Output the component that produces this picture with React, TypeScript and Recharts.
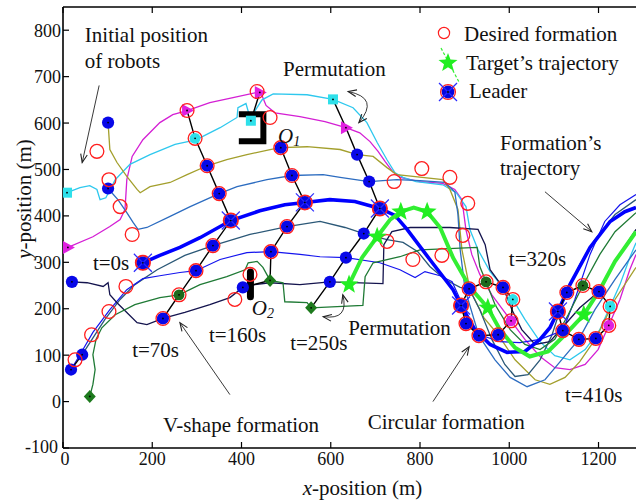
import React from 'react';
import {
  ComposedChart,
  Line,
  Scatter,
  XAxis,
  YAxis,
  ReferenceDot,
  ReferenceLine,
  Legend,
} from 'recharts';

type Pt = { x: number; y: number };
const toPts = (rows: number[][]): Pt[] => rows.map(([x, y]) => ({ x, y }));

// ---------- axes ----------
const xTicks = [0, 200, 400, 600, 800, 1000, 1200];
const yTicks = [-100, 0, 100, 200, 300, 400, 500, 600, 700, 800];

// ---------- robot trajectories (m) ----------
const magentaPath = toPts([
  [11, 332], [67, 355], [105, 377], [128, 392], [139, 414], [143, 478], [155, 528], [179, 564],
  [217, 601], [246, 618], [278, 627], [329, 644], [381, 655], [435, 666], [441, 666], [446, 659],
  [455, 638], [475, 622], [531, 614], [587, 603], [634, 590], [665, 579], [688, 560], [706, 539],
  [722, 517], [739, 495], [755, 483], [800, 474], [851, 470], [878, 457], [894, 435], [903, 370],
  [916, 317], [934, 274], [961, 230], [1004, 174], [1035, 134], [1069, 97], [1102, 73], [1136, 69],
  [1170, 80], [1199, 112], [1223, 164], [1248, 220], [1270, 284], [1284, 317],
]);
const cyanPath = toPts([
  [9, 450], [38, 461], [60, 465], [76, 457], [83, 435], [96, 439], [117, 478], [150, 511],
  [195, 532], [251, 554], [298, 564], [352, 590], [390, 612], [392, 633], [410, 642], [421, 605],
  [432, 629], [446, 650], [471, 663], [547, 661], [605, 651], [650, 633], [681, 601], [704, 558],
  [726, 521], [744, 493], [762, 483], [791, 474], [851, 467], [881, 450], [903, 420], [912, 370],
  [930, 327], [957, 280], [1008, 220], [1035, 177], [1069, 129], [1102, 99], [1136, 90], [1170, 112],
  [1203, 155], [1226, 205], [1248, 252], [1270, 310], [1284, 342],
]);
const olivePath = toPts([
  [101, 601], [105, 543], [121, 515], [143, 485], [166, 457], [173, 450], [195, 463], [240, 472],
  [278, 489], [323, 508], [367, 521], [412, 532], [464, 543], [488, 547], [547, 549], [621, 543],
  [659, 532], [695, 528], [726, 504], [748, 489], [851, 478], [867, 457], [885, 414], [894, 327],
  [912, 241], [943, 181], [975, 144], [1013, 90], [1058, 47], [1091, 37], [1125, 52], [1158, 86],
  [1194, 136], [1237, 220], [1284, 289],
]);
const steelPath = toPts([
  [101, 459], [123, 435], [143, 407], [157, 386], [168, 371], [188, 375], [240, 399], [285, 420],
  [350, 448], [390, 463], [457, 478], [513, 487], [583, 489], [621, 483], [686, 474], [748, 478],
  [800, 476], [856, 472], [878, 452], [885, 403], [890, 327], [901, 241], [932, 142], [968, 90],
  [1002, 52], [1040, 32], [1080, 47], [1114, 86], [1156, 134], [1192, 198], [1237, 263], [1284, 327],
]);
const leaderPath = toPts([
  [179, 299], [217, 315], [262, 332], [307, 353], [376, 390], [441, 411], [497, 424], [542, 429],
  [598, 435], [654, 431], [710, 416], [744, 401], [771, 371], [822, 306], [874, 241], [892, 207],
  [923, 155], [957, 123], [995, 106], [1035, 108], [1069, 134], [1091, 159], [1109, 194], [1136, 252],
  [1181, 332], [1226, 388], [1259, 409], [1284, 418],
]);
const slatePath = toPts([
  [43, 101], [65, 134], [94, 177], [128, 220], [161, 252], [211, 284], [273, 315], [336, 336],
  [419, 360], [502, 377], [576, 388], [632, 375], [674, 362], [726, 349], [762, 343], [795, 323],
  [822, 291], [856, 263], [890, 246], [910, 243], [934, 198], [961, 134], [990, 80], [1013, 54],
  [1042, 58], [1069, 90], [1096, 144], [1114, 198], [1129, 235], [1158, 295], [1192, 349], [1237, 403],
  [1284, 435],
]);
const bluePath = toPts([
  [18, 69], [38, 101], [67, 149], [105, 198], [143, 241], [179, 265], [217, 271], [262, 278],
  [298, 282], [352, 306], [412, 321], [466, 323], [531, 317], [576, 312], [634, 310], [710, 299],
  [755, 284], [789, 267], [811, 280], [845, 271], [872, 258], [890, 220], [903, 168], [934, 144],
  [979, 129], [1024, 127], [1069, 134], [1120, 153], [1147, 220], [1181, 317], [1214, 388], [1248, 424],
  [1284, 446],
]);
const navyPath = toPts([
  [20, 258], [54, 256], [90, 248], [101, 256], [105, 230], [121, 213], [143, 192], [166, 170],
  [188, 166], [224, 179], [273, 192], [329, 209], [374, 224], [403, 246], [430, 252], [464, 256],
  [531, 252], [598, 258], [717, 254], [719, 338], [737, 366], [778, 375], [867, 375], [930, 371],
  [946, 338], [957, 284], [986, 246], [1006, 198], [1028, 155], [1058, 123], [1091, 129], [1125, 166],
  [1158, 202], [1201, 237], [1237, 302], [1284, 371],
]);
const greenPath = toPts([
  [60, 11], [67, 37], [72, 69], [67, 101], [74, 134], [87, 159], [117, 187], [161, 209],
  [217, 224], [260, 230], [307, 252], [367, 269], [408, 284], [415, 299], [435, 302], [448, 289],
  [464, 261], [493, 256], [497, 215], [547, 213], [556, 202], [672, 207], [677, 269], [695, 299],
  [755, 312], [800, 327], [928, 332], [934, 291], [948, 258], [968, 209], [1002, 155], [1035, 123],
  [1069, 112], [1102, 134], [1132, 187], [1165, 250], [1203, 317], [1237, 366], [1284, 407],
]);
const targetPath = toPts([
  [641, 252], [670, 310], [704, 355], [733, 392], [757, 409], [786, 418], [816, 409], [845, 375],
  [874, 310], [912, 246], [952, 202], [979, 155], [1013, 116], [1046, 97], [1087, 108], [1125, 144],
  [1167, 187], [1203, 241], [1237, 302], [1284, 366],
]);

// ---------- formation snapshots ----------
const formT0 = toPts([[18, 69], [43, 101]]);
const formT70 = toPts([
  [278, 627], [296, 567], [323, 508], [350, 448], [376, 390], [336, 336], [298, 282], [260, 230], [224, 179],
]);
const formT160a = toPts([[441, 666], [421, 605]]);
const formT160b = toPts([[488, 547], [513, 487], [542, 429], [502, 377], [466, 323], [464, 261], [403, 246]]);
const formT250 = toPts([
  [605, 651], [634, 590], [659, 532], [686, 474], [710, 416], [674, 362], [634, 310], [598, 258], [556, 202],
]);
const ringT320 = toPts([
  [910, 243], [948, 258], [986, 246], [1008, 220], [1004, 174], [975, 144], [932, 142], [903, 168], [892, 207], [910, 243],
]);
const ringT410 = toPts([
  [1129, 235], [1165, 250], [1201, 237], [1226, 205], [1223, 164], [1194, 136], [1156, 134], [1120, 153], [1109, 194], [1129, 235],
]);

// desired formation positions
const desired = toPts([
  [76, 539], [103, 478], [128, 420], [155, 360], [179, 299], [141, 248], [103, 194], [64, 144], [27, 90],
  [278, 627], [296, 567], [323, 508], [350, 448], [376, 390], [336, 336], [298, 282], [260, 230], [224, 179],
  [435, 668], [464, 612], [488, 547], [513, 487], [542, 429], [502, 377], [466, 323], [419, 274], [385, 220],
  [726, 345], [742, 474], [784, 306], [804, 502], [849, 315], [867, 483], [896, 358], [907, 427],
  [910, 243], [948, 258], [986, 246], [1008, 220], [1004, 174], [975, 144], [932, 142], [903, 168], [892, 207],
  [1129, 235], [1165, 250], [1201, 237], [1226, 205], [1223, 164], [1194, 136], [1156, 134], [1120, 153], [1109, 194],
  [710, 416],
]);

// robot positions at the snapshot times
const blueRobots = toPts([
  [101, 601], [101, 459], [20, 258], [43, 101], [18, 69],
  [323, 508], [350, 448], [336, 336], [298, 282], [224, 179],
  [488, 547], [513, 487], [502, 377], [466, 323], [403, 246],
  [659, 532], [686, 474], [674, 362], [634, 310], [598, 258],
  [910, 243], [986, 246], [975, 144], [932, 142], [903, 168],
  [1129, 235], [1201, 237], [1194, 136], [1156, 134], [1120, 153],
]);
const leaderMarks = toPts([[179, 299], [376, 390], [542, 429], [710, 416], [892, 207], [1109, 194]]);
const magentaTriangles = toPts([[11, 332], [278, 627], [441, 666], [634, 590]]);
const magentaDots = toPts([[1004, 174], [1223, 164]]);
const cyanSquares = toPts([[9, 450], [421, 605], [605, 651]]);
const cyanDots = toPts([[296, 567], [1008, 220], [1226, 205]]);
const greenDiamonds = toPts([[60, 11], [464, 261], [556, 202]]);
const greenDots = toPts([[260, 230], [948, 258], [1165, 250]]);
const targetStars = toPts([[641, 252], [704, 355], [757, 409], [816, 409], [952, 202], [1167, 187]]);

// obstacles
const obstacleO1 = toPts([[394, 619], [449, 619], [449, 561], [394, 561]]);
const obstacleO2 = toPts([[420, 279], [420, 226]]);

// annotations
const notes = [
  { x: 49, y: 775, text: 'Initial position' },
  { x: 49, y: 719, text: 'of robots' },
  { x: 493, y: 702, text: 'Permutation' },
  { x: 67, y: 284, text: 't=0s' },
  { x: 155, y: 95, text: 't=70s' },
  { x: 327, y: 129, text: 't=160s' },
  { x: 509, y: 112, text: 't=250s' },
  { x: 639, y: 144, text: 'Permutation' },
  { x: 224, y: -65, text: 'V-shape formation' },
  { x: 683, y: -60, text: 'Circular formation' },
  { x: 999, y: 293, text: 't=320s' },
  { x: 1125, y: 0, text: 't=410s' },
  { x: 979, y: 543, text: 'Formation’s' },
  { x: 979, y: 489, text: 'trajectory' },
];
const obstacleNames = [
  { x: 482, y: 558, name: '1' },
  { x: 423, y: 187, name: '2' },
];
const arrows = [
  { from: { x: 81, y: 681 }, to: { x: 43, y: 515 }, bend: 0 },
  { from: { x: 1080, y: 452 }, to: { x: 1185, y: 366 }, bend: 0 },
  { from: { x: 374, y: 15 }, to: { x: 262, y: 170 }, bend: 0 },
  { from: { x: 829, y: 0 }, to: { x: 910, y: 118 }, bend: 0 },
  { from: { x: 639, y: 668 }, to: { x: 663, y: 601 }, bend: 0.85 },
  { from: { x: 627, y: 230 }, to: { x: 583, y: 183 }, bend: 0.75 },
];

// ---------- drawing helpers ----------
const SERIF = '"Liberation Serif", "Times New Roman", Times, serif';

const starPath = (cx: number, cy: number, R: number, r: number) => {
  let d = '';
  for (let i = 0; i < 10; i++) {
    const a = -Math.PI / 2 + (i * Math.PI) / 5;
    const rad = i % 2 === 0 ? R : r;
    d += (i ? 'L' : 'M') + (cx + rad * Math.cos(a)).toFixed(2) + ',' + (cy + rad * Math.sin(a)).toFixed(2);
  }
  return d + 'Z';
};

const CenterDot = ({ cx, cy }: { cx: number; cy: number }) => <circle cx={cx} cy={cy} r={0.9} fill="#000" />;

const RedRing = (p: any) => (
  <circle cx={p.cx} cy={p.cy} r={6.9} fill="none" stroke="#ff1e1e" strokeWidth={1.3} />
);
const BlueDot = (p: any) => (
  <g>
    <circle cx={p.cx} cy={p.cy} r={6.1} fill="#0808e8" />
    <CenterDot cx={p.cx} cy={p.cy} />
  </g>
);
const LeaderMark = ({ cx, cy }: { cx: number; cy: number }) => (
  <g>
    <circle cx={cx} cy={cy} r={6.4} fill="#0505e0" />
    <circle cx={cx} cy={cy} r={7.4} fill="none" stroke="#ff2020" strokeWidth={1.3} />
    <line x1={cx - 9} y1={cy - 9} x2={cx + 9} y2={cy + 9} stroke="#2a2aff" strokeWidth={1.2} />
    <line x1={cx - 9} y1={cy + 9} x2={cx + 9} y2={cy - 9} stroke="#2a2aff" strokeWidth={1.2} />
    <CenterDot cx={cx} cy={cy} />
  </g>
);
const LeaderShape = (p: any) => <LeaderMark cx={p.cx} cy={p.cy} />;
const TriangleShape = (p: any) => (
  <g>
    <polygon
      points={`${p.cx - 5},${p.cy - 6.5} ${p.cx + 7},${p.cy} ${p.cx - 5},${p.cy + 6.5}`}
      fill="#e020e0"
    />
    <CenterDot cx={p.cx} cy={p.cy} />
  </g>
);
const SmallDot = (color: string) => (p: any) => (
  <g>
    <circle cx={p.cx} cy={p.cy} r={5.4} fill={color} />
    <CenterDot cx={p.cx} cy={p.cy} />
  </g>
);
const SquareShape = (p: any) => (
  <g>
    <rect x={p.cx - 5} y={p.cy - 5} width={10} height={10} fill="#2ee0ea" />
    <CenterDot cx={p.cx} cy={p.cy} />
  </g>
);
const DiamondShape = (p: any) => (
  <g>
    <polygon
      points={`${p.cx},${p.cy - 6.5} ${p.cx + 6},${p.cy} ${p.cx},${p.cy + 6.5} ${p.cx - 6},${p.cy}`}
      fill="#1d7a1d"
    />
    <CenterDot cx={p.cx} cy={p.cy} />
  </g>
);
const StarShape = (p: any) => <path d={starPath(p.cx, p.cy, 10, 4.2)} fill="#22ee22" />;

const headPath = (tx: number, ty: number, fx: number, fy: number) => {
  const a = Math.atan2(ty - fy, tx - fx);
  const L = 9;
  const s = 0.38;
  const ax = tx - L * Math.cos(a - s);
  const ay = ty - L * Math.sin(a - s);
  const bx = tx - L * Math.cos(a + s);
  const by = ty - L * Math.sin(a + s);
  return `M${ax},${ay}L${tx},${ty}L${bx},${by}`;
};

const arrowShape = (bend: number) => (p: any) => {
  const { x1, y1, x2, y2 } = p;
  const dx = x2 - x1;
  const dy = y2 - y1;
  if (!bend) {
    return (
      <g fill="none" stroke="#222" strokeWidth={0.9}>
        <line x1={x1} y1={y1} x2={x2} y2={y2} />
        <path d={headPath(x2, y2, x1, y1)} strokeWidth={1.1} />
      </g>
    );
  }
  const cx = (x1 + x2) / 2 + dy * bend;
  const cy = (y1 + y2) / 2 - dx * bend;
  return (
    <g fill="none" stroke="#222" strokeWidth={0.9}>
      <path d={`M${x1},${y1}Q${cx},${cy} ${x2},${y2}`} />
      <path d={headPath(x1, y1, cx, cy)} strokeWidth={1.1} />
      <path d={headPath(x2, y2, cx, cy)} strokeWidth={1.1} />
    </g>
  );
};

const noteShape = (text: string) => (p: any) => (
  <text x={p.cx} y={p.cy} fontFamily={SERIF} fontSize={21} fill="#111">
    {text}
  </text>
);
const obstacleShape = (sub: string) => (p: any) => (
  <text x={p.cx} y={p.cy} fontFamily={SERIF} fontSize={21} fontStyle="italic" fill="#111">
    O
    <tspan fontSize={14} dy={3}>
      {sub}
    </tspan>
  </text>
);

const BottomTick = (p: any) => (
  <g>
    <line x1={p.x} y1={p.y} x2={p.x} y2={p.y - 6} stroke="#000" strokeWidth={1.2} />
    <text x={p.x + (p.payload.value === 0 ? 2 : 0)} y={p.y + 17} textAnchor="middle" fontFamily={SERIF} fontSize={18} fill="#111">
      {p.payload.value}
    </text>
  </g>
);
const TopTick = (p: any) => (
  <line x1={p.x} y1={p.y} x2={p.x} y2={p.y + 6} stroke="#000" strokeWidth={1.2} />
);
const LeftTick = (p: any) => (
  <g>
    <line x1={p.x} y1={p.y} x2={p.x + 6} y2={p.y} stroke="#000" strokeWidth={1.2} />
    <text
      x={p.x - (p.payload.value < 0 ? 5 : 2)}
      y={p.y + (p.payload.value < 0 ? 5 : 6.5)}
      textAnchor="end"
      fontFamily={SERIF}
      fontSize={18}
      fill="#111"
    >
      {p.payload.value}
    </text>
  </g>
);

const XTitle = (p: any) => {
  const vb = p.viewBox || { x: 63, y: 448, width: 573 };
  return (
    <text x={vb.x + vb.width / 2 + 13} y={vb.y + 47} textAnchor="middle" fontFamily={SERIF} fontSize={21} fill="#111">
      <tspan fontStyle="italic">x</tspan>-position (m)
    </text>
  );
};
// vertical title sits beside the y ticks, centred a little above mid-axis
const Y_TITLE_X = 31;
const Y_TITLE_Y = 199;
const YTitle = () => (
  <text
    x={Y_TITLE_X}
    y={Y_TITLE_Y}
    transform={`rotate(-90 ${Y_TITLE_X} ${Y_TITLE_Y})`}
    textAnchor="middle"
    fontFamily={SERIF}
    fontSize={21}
    fill="#111"
  >
    <tspan fontStyle="italic">y</tspan>-position (m)
  </text>
);

const LegendBox = () => (
  <svg width={200} height={100} style={{ overflow: 'visible', display: 'block' }}>
    <circle cx={14} cy={13} r={5.6} fill="none" stroke="#ff1e1e" strokeWidth={1.2} />
    <text x={34} y={21} fontFamily={SERIF} fontSize={21} fill="#111">
      Desired formation
    </text>
    <line x1={11} y1={28} x2={29} y2={62} stroke="#33ee33" strokeWidth={1.2} strokeDasharray="3 2" />
    <path d={starPath(18, 43, 10, 4.2)} fill="#22ee22" />
    <text x={36} y={50} fontFamily={SERIF} fontSize={21} fill="#111">
      Target’s trajectory
    </text>
    <LeaderMark cx={18} cy={72} />
    <text x={39} y={78} fontFamily={SERIF} fontSize={21} fill="#111">
      Leader
    </text>
  </svg>
);

const robotSeries = [
  { key: 'magenta', data: magentaPath, color: '#d41fd4', width: 1.3 },
  { key: 'cyan', data: cyanPath, color: '#2ec8ee', width: 1.3 },
  { key: 'olive', data: olivePath, color: '#a39f2c', width: 1.3 },
  { key: 'steel', data: steelPath, color: '#2c6cc0', width: 1.3 },
  { key: 'slate', data: slatePath, color: '#2b5877', width: 1.3 },
  { key: 'blue', data: bluePath, color: '#1414ee', width: 1.2 },
  { key: 'navy', data: navyPath, color: '#14144e', width: 1.3 },
  { key: 'green', data: greenPath, color: '#1f7a35', width: 1.3 },
  { key: 'leader', data: leaderPath, color: '#0000ff', width: 3.6 },
  { key: 'target', data: targetPath, color: '#33ee33', width: 4 },
];

const formationLines = [formT0, formT70, formT160a, formT160b, formT250, ringT320, ringT410];

export default function App() {
  return (
    <div style={{ position: 'fixed', left: 0, top: 0, width: 636, height: 504, background: '#fff' }}>
      <ComposedChart width={636} height={504} margin={{ top: 0, right: 0, bottom: 0, left: 0 }}>
        <XAxis
          xAxisId={0}
          type="number"
          dataKey="x"
          domain={[0, 1284]}
          ticks={xTicks}
          interval={0}
          allowDataOverflow
          height={56}
          tickSize={0}
          tickMargin={0}
          tickLine={false}
          tick={BottomTick}
          axisLine={{ stroke: '#000', strokeWidth: 1.6 }}
          label={{ content: XTitle }}
        />
        <XAxis
          xAxisId="top"
          orientation="top"
          type="number"
          dataKey="x"
          domain={[0, 1284]}
          ticks={xTicks}
          interval={0}
          allowDataOverflow
          height={7}
          tickSize={0}
          tickMargin={0}
          tickLine={false}
          tick={TopTick}
          axisLine={{ stroke: '#000', strokeWidth: 1.6 }}
        />
        <YAxis
          type="number"
          dataKey="y"
          domain={[-100, 850]}
          ticks={yTicks}
          interval={0}
          allowDataOverflow
          width={63}
          tickSize={0}
          tickMargin={0}
          tickLine={false}
          tick={LeftTick}
          axisLine={{ stroke: '#000', strokeWidth: 1.6 }}
          label={{ content: YTitle }}
        />

        {robotSeries.map((s) => (
          <Line
            key={s.key}
            data={s.data}
            dataKey="y"
            type="linear"
            stroke={s.color}
            strokeWidth={s.width}
            dot={false}
            activeDot={false}
            isAnimationActive={false}
            legendType="none"
          />
        ))}

        {formationLines.map((d, i) => (
          <Line
            key={'form' + i}
            data={d}
            dataKey="y"
            type="linear"
            stroke="#000"
            strokeWidth={1.4}
            dot={false}
            activeDot={false}
            isAnimationActive={false}
            legendType="none"
          />
        ))}

        <Line
          data={obstacleO1}
          dataKey="y"
          type="linear"
          stroke="#000"
          strokeWidth={6}
          strokeLinejoin="miter"
          dot={false}
          activeDot={false}
          isAnimationActive={false}
          legendType="none"
        />
        <Line
          data={obstacleO2}
          dataKey="y"
          type="linear"
          stroke="#000"
          strokeWidth={7}
          strokeLinecap="round"
          dot={false}
          activeDot={false}
          isAnimationActive={false}
          legendType="none"
        />

        <Scatter data={blueRobots} shape={BlueDot} isAnimationActive={false} legendType="none" />
        <Scatter data={magentaTriangles} shape={TriangleShape} isAnimationActive={false} legendType="none" />
        <Scatter data={magentaDots} shape={SmallDot('#e020e0')} isAnimationActive={false} legendType="none" />
        <Scatter data={cyanSquares} shape={SquareShape} isAnimationActive={false} legendType="none" />
        <Scatter data={cyanDots} shape={SmallDot('#2ee0ea')} isAnimationActive={false} legendType="none" />
        <Scatter data={greenDiamonds} shape={DiamondShape} isAnimationActive={false} legendType="none" />
        <Scatter data={greenDots} shape={SmallDot('#1d6a1d')} isAnimationActive={false} legendType="none" />
        <Scatter data={desired} shape={RedRing} isAnimationActive={false} legendType="none" />
        <Scatter data={leaderMarks} shape={LeaderShape} isAnimationActive={false} legendType="none" />
        <Scatter data={targetStars} shape={StarShape} isAnimationActive={false} legendType="none" />

        {arrows.map((a, i) => (
          <ReferenceLine
            key={'arrow' + i}
            segment={[a.from, a.to]}
            ifOverflow="visible"
            shape={arrowShape(a.bend)}
          />
        ))}
        {notes.map((n, i) => (
          <ReferenceDot key={'note' + i} x={n.x} y={n.y} r={0} ifOverflow="visible" shape={noteShape(n.text)} />
        ))}
        {obstacleNames.map((o) => (
          <ReferenceDot key={'obs' + o.name} x={o.x} y={o.y} r={0} ifOverflow="visible" shape={obstacleShape(o.name)} />
        ))}

        <Legend
          content={LegendBox}
          verticalAlign="middle"
          layout="horizontal"
          wrapperStyle={{ left: 430, top: 20, width: 200, height: 100 }}
        />
      </ComposedChart>
    </div>
  );
}
